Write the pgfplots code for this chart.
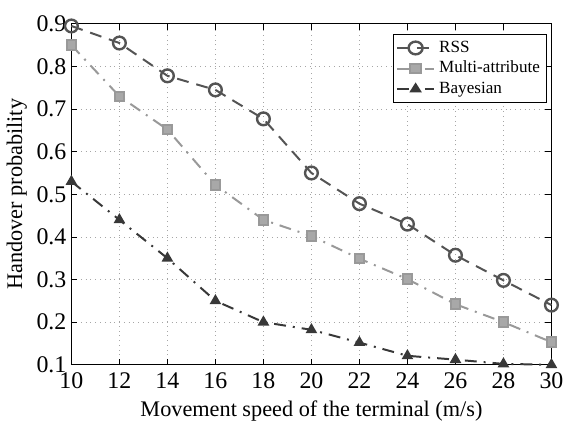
\documentclass[border=0pt]{standalone}
\usepackage{fontspec}
\setmainfont{Liberation Serif}
\usepackage{pgfplots}
\pgfplotsset{compat=1.18}
\begin{document}
\begin{tikzpicture}
\definecolor{cRSS}{gray}{0.33}
\definecolor{cRSSfill}{gray}{0.82}
\definecolor{cMulti}{gray}{0.6}
\definecolor{cBay}{gray}{0.22}
\begin{axis}[
    scale only axis,
    width=241.5pt, height=171.5pt,
    xmin=10, xmax=30, ymin=0.1, ymax=0.9,
    xtick={10,12,...,30},
    ytick={0.1,0.2,...,0.9},
    yticklabel style={xshift=1pt, /pgf/number format/fixed, /pgf/number format/fixed zerofill, /pgf/number format/precision=1},
    /pgf/number format/assume math mode=true,
    tick align=inside,
    tick style={black, thin},
    major tick length=3pt,
    grid=major,
    major grid style={dotted, gray!70},
    axis line style={black, thin},
    tick label style={font=\fontsize{12}{14}\selectfont},
    label style={font=\fontsize{11.2}{13}\selectfont},
    xticklabel style={yshift=-0.5pt},
    xlabel={Movement speed of the terminal (m/s)},
    ylabel={Handover probability},
    xlabel style={yshift=1pt},
    ylabel style={yshift=-2pt},
    clip=false,
    after end axis/.code={\path (rel axis cs:0,1) ++(0,12pt);},
    legend style={at={(0.99,0.97)}, anchor=north east, draw=black, thin,
        font=\fontsize{8.6}{10}\selectfont, inner sep=1.2pt, row sep=-1pt,
        cells={anchor=west}},
    legend cell align=left,
    legend image post style={xscale=1.1},
]
\addplot[cRSS, line width=1pt, dash pattern=on 6pt off 4pt,
    mark=o, mark size=3.2pt, mark options={solid, fill=cRSSfill, draw=cRSS, line width=1.2pt}]
coordinates {(10,0.895) (12,0.855) (14,0.778) (16,0.745) (18,0.677) (20,0.550)
(22,0.478) (24,0.430) (26,0.357) (28,0.298) (30,0.240)};
\addlegendentry{RSS}
\addplot[cMulti, line width=1pt, dash pattern=on 6pt off 3.5pt on 1pt off 3.5pt,
    mark=square*, mark size=2.4pt, mark options={solid, fill=cMulti!85, draw=cMulti}]
coordinates {(10,0.850) (12,0.730) (14,0.652) (16,0.522) (18,0.440) (20,0.402)
(22,0.349) (24,0.301) (26,0.242) (28,0.200) (30,0.153)};
\addlegendentry{Multi-attribute}
\addplot[cBay, line width=1pt, dash pattern=on 6pt off 3.5pt on 1pt off 3.5pt,
    mark=triangle*, mark size=2.4pt, mark options={solid, fill=cBay, draw=cBay}]
coordinates {(10,0.530) (12,0.440) (14,0.350) (16,0.250) (18,0.200) (20,0.182)
(22,0.152) (24,0.121) (26,0.112) (28,0.102) (30,0.100)};
\addlegendentry{Bayesian}
\end{axis}
\end{tikzpicture}
\end{document}
